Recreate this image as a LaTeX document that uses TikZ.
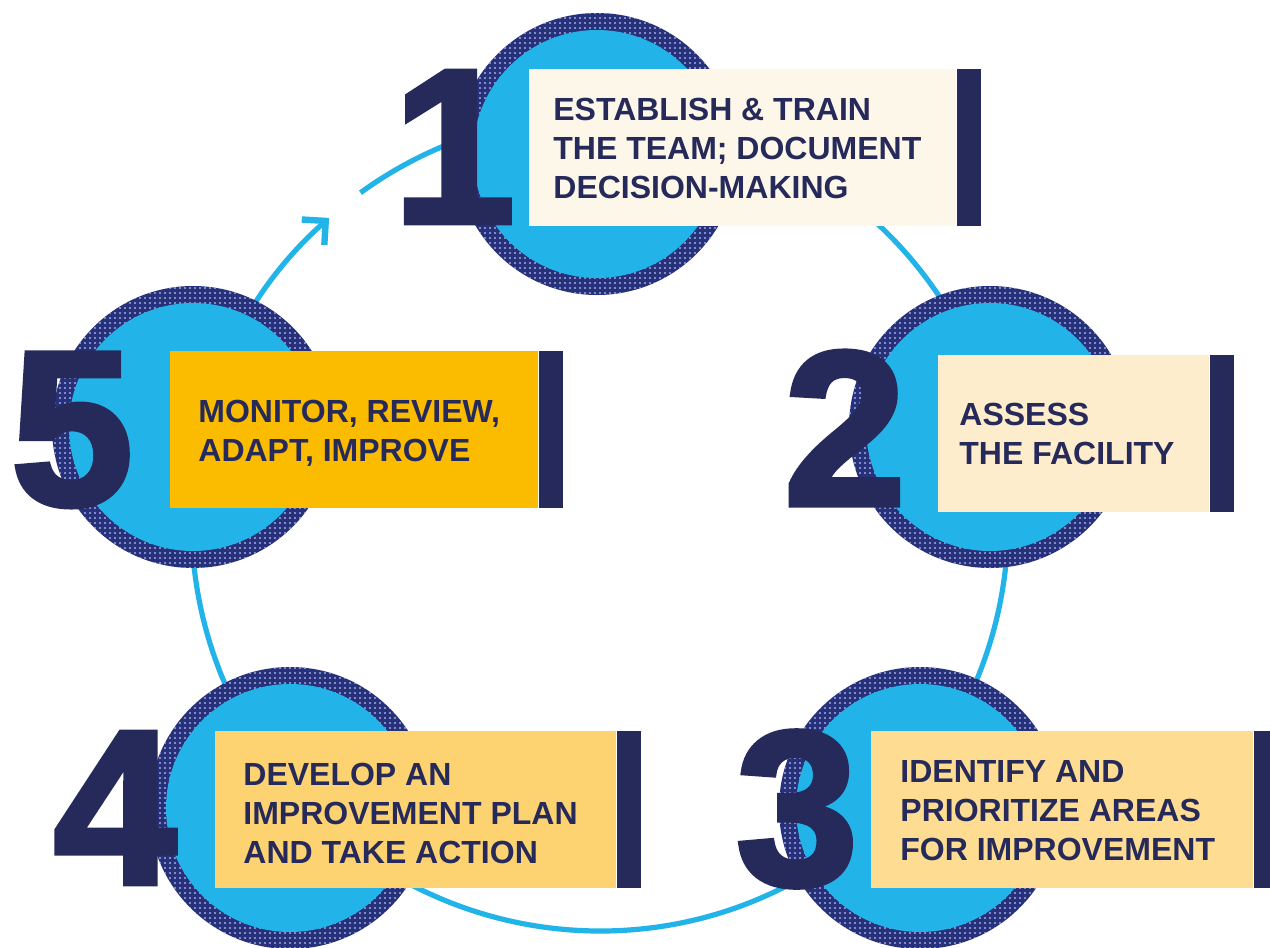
\documentclass[tikz,border=0pt]{standalone}
\usepackage{fontspec}
\setmainfont{Liberation Sans}
\newfontfamily\numfont{Liberation Sans}[BoldFeatures={FakeBold=2.5}]
\usetikzlibrary{patterns,arrows.meta,calc}

\definecolor{navy}{HTML}{262A5A}
\definecolor{ringnavy}{HTML}{27307A}
\definecolor{dotblue}{HTML}{A3AEDC}
\definecolor{skyblue}{HTML}{22B4E8}
\definecolor{creamA}{HTML}{FDF7EA}
\definecolor{creamB}{HTML}{FEEDCC}
\definecolor{amber}{HTML}{FBBC00}
\definecolor{sandA}{HTML}{FDD372}
\definecolor{sandB}{HTML}{FEDC91}

% halftone dots for the rings
\pgfdeclarepatternformonly{halftone}{\pgfqpoint{-1pt}{-1pt}}{\pgfqpoint{1pt}{1pt}}{\pgfqpoint{2.5pt}{2.5pt}}{%
  \pgfpathcircle{\pgfpointorigin}{0.55pt}\pgfusepath{fill}}

\tikzset{
  ringdisc/.style={circle, inner sep=0pt, minimum size=141pt, fill=ringnavy,
    postaction={pattern=halftone, pattern color=dotblue}},
  innerdisc/.style={circle, inner sep=0pt, minimum size=124pt, fill=skyblue},
  stepbox/.style 2 args={rectangle, inner sep=0pt, anchor=north west, fill=#1,
    minimum width=#2, minimum height=78.5pt},
  endbar/.style={rectangle, inner sep=0pt, anchor=north west, fill=navy,
    minimum width=12pt, minimum height=78.5pt},
  numeral/.style={inner sep=0pt, text=navy, font=\numfont\bfseries\fontsize{110}{110}\selectfont},
  steptext/.style={inner sep=0pt, anchor=north west, align=left, text=navy,
    font=\bfseries\fontsize{16}{19.5}\selectfont},
  loopline/.style={draw=skyblue, line width=2.6pt}
}

\begin{document}
\begin{tikzpicture}[x=0.5pt, y=-0.5pt]
  \fill[white] (0,0) rectangle (1270,948);
  \useasboundingbox (0,0) rectangle (1270,948);

  % the cycle, drawn first so the stations cover it
  \coordinate (ring) at (600,523);
  \coordinate (gapend) at ($(ring)+(234.05:408)$);
  \draw[loopline, -{Straight Barb[length=8.5pt, width=17pt, line width=3.2pt]}]
    (gapend) arc[start angle=234.05, end angle=588.4, radius=408];

  % step 1
  \node[ringdisc] (c1) at (597,154) {};
  \node[innerdisc] (d1) at (c1) {};
  \node[stepbox={creamA}{213.5pt}] (box1) at (529,69) {};
  \node[endbar] (bar1) at (box1.north east) {};
  \node[numeral] (n1) at (454,147) {1};
  \node[steptext] (t1) at (553,98) {ESTABLISH \& TRAIN\\THE TEAM; DOCUMENT\\DECISION-MAKING};

  % step 2
  \node[ringdisc] (c2) at (990,427) {};
  \node[innerdisc] (d2) at (c2) {};
  \node[stepbox={creamB}{135.5pt}] (box2) at (938,355) {};
  \node[endbar] (bar2) at (box2.north east) {};
  \node[numeral] (n2) at (845,428) {2};
  \node[steptext] (t2) at (959,403) {ASSESS\\THE FACILITY};

  % step 3
  \node[ringdisc] (c3) at (920,808) {};
  \node[innerdisc] (d3) at (c3) {};
  \node[stepbox={sandB}{191pt}] (box3) at (871,731) {};
  \node[endbar] (bar3) at (box3.north east) {};
  \node[numeral] (n3) at (797,809) {3};
  \node[steptext] (t3) at (900,760) {IDENTIFY AND\\PRIORITIZE AREAS\\FOR IMPROVEMENT};

  % step 4
  \node[ringdisc] (c4) at (290,808) {};
  \node[innerdisc] (d4) at (c4) {};
  \node[stepbox={sandA}{200.5pt}] (box4) at (215,731) {};
  \node[endbar] (bar4) at (box4.north east) {};
  \node[numeral] (n4) at (115,808) {4};
  \node[steptext] (t4) at (243,763) {DEVELOP AN\\IMPROVEMENT PLAN\\AND TAKE ACTION};

  % step 5
  \node[ringdisc] (c5) at (193,427) {};
  \node[innerdisc] (d5) at (c5) {};
  \node[stepbox={amber}{184pt}] (box5) at (170,351) {};
  \node[endbar] (bar5) at (box5.north east) {};
  \node[numeral] (n5) at (72,430) {5};
  \node[steptext] (t5) at (198,400) {MONITOR, REVIEW,\\ADAPT, IMPROVE};
\end{tikzpicture}
\end{document}
